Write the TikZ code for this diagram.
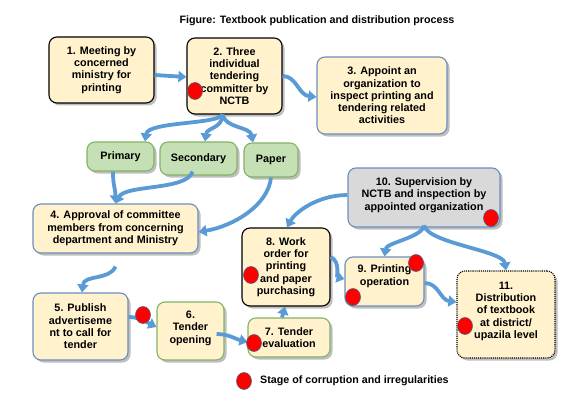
\documentclass[tikz,border=0pt]{standalone}
\usepackage{fontspec}
\setmainfont{Liberation Sans}
\usetikzlibrary{arrows.meta,shapes.geometric,shadows}
\definecolor{yfill}{HTML}{FFF2CC}
\definecolor{gfill}{HTML}{C5E0B4}
\definecolor{gline}{HTML}{82B366}
\definecolor{bline}{HTML}{6C8EBF}
\definecolor{grayfill}{HTML}{D9D9D9}
\definecolor{arr}{HTML}{5B9BD5}
\tikzset{
  box/.style={rectangle, rounded corners=8pt, fill=yfill, draw=black, line width=1.1pt,
    align=center, font=\fontsize{10.8}{12.3}\selectfont\bfseries, inner sep=0pt,
    drop shadow={shadow xshift=2.5pt, shadow yshift=-2.5pt, fill=black!50, opacity=0.5}},
  bluebox/.style={box, draw=bline},
  greenbox/.style={box, draw=gline},
  catbox/.style={box, draw=gline, fill=gfill},
  distbox/.style={box, draw=black, densely dotted},
  conn/.style={draw=arr, line width=3.8pt, -{Triangle[width=11pt,length=8pt]}},
  reddot/.style={ellipse, fill=red, draw=bline!70!black, line width=0.6pt, minimum width=15pt, minimum height=17pt, inner sep=0pt},
  plain/.style={font=\fontsize{10.7}{12}\selectfont\bfseries, inner sep=0pt}
}
\begin{document}
\begin{tikzpicture}[x=1pt,y=-1pt]
\path[use as bounding box, fill=white] (0,0) rectangle (588,409);
\node[plain] (title) at (317,21) {Figure: Textbook publication and distribution process};

\node[box, minimum width=105pt, minimum height=66pt] (b1) at (101.5,70) {1. Meeting by\\concerned\\ministry for\\printing};
\node[box, minimum width=95pt, minimum height=76pt, text depth=0pt] (b2) at (234.5,76) {2. Three\\individual\\tendering\\committer by\\NCTB};
\node[bluebox, minimum width=130pt, minimum height=77pt] (b3) at (382,95.5) {3. Appoint an\\organization to\\inspect printing and\\tendering related\\activities};
\node[catbox, minimum width=67pt, minimum height=29pt] (P) at (120.5,156.5) {Primary};
\node[catbox, minimum width=77pt, minimum height=33pt] (S) at (198.5,158.5) {Secondary};
\node[catbox, minimum width=54pt, minimum height=34pt] (Pa) at (271,160) {Paper};
\node[bluebox, fill=grayfill, minimum width=152pt, minimum height=59pt, text depth=7pt] (b10) at (424,197.5) {10. Supervision by\\NCTB and inspection by\\appointed organization};
\node[bluebox, minimum width=165pt, minimum height=49pt] (b4) at (115.5,228.5) {4. Approval of committee\\members from concerning\\department and Ministry};
\node[box, minimum width=88pt, minimum height=78pt] (b8) at (286,267) {8. Work\\order for\\printing\\and paper\\purchasing};
\node[bluebox, minimum width=79pt, minimum height=49pt, text depth=13pt] (b9) at (384.5,281.5) {9. Printing\\operation};
\node[distbox, minimum width=98pt, minimum height=87pt, text depth=9pt] (b11) at (506,314.5) {11.\\Distribution\\of textbook\\at district/\\upazila level};
\node[greenbox, minimum width=82pt, minimum height=39pt] (b7) at (289,337.5) {7. Tender\\evaluation};
\node[bluebox, minimum width=95pt, minimum height=67pt] (b5) at (80.5,326.5) {5. Publish\\advertiseme\\nt to call for\\tender};
\node[greenbox, minimum width=67pt, minimum height=58pt, text depth=8pt] (b6) at (190.5,331) {6.\\Tender\\opening};

% connectors
\draw[conn] ([yshift=-5pt]b1.east) -- ([yshift=-1pt]b2.west);
\draw[conn] (b2.east) .. controls +(14,0) and +(-18,-2) .. ([yshift=-1.5pt]b3.west);
\draw[conn] ([xshift=-12pt]b2.south) .. controls +(-5,10) and +(3,-20) .. ([xshift=24.5pt]P.north);
\draw[conn] ([xshift=-12pt]b2.south) .. controls +(0,14) and +(2,-14) .. ([xshift=6.5pt]S.north);
\draw[conn] ([xshift=-12pt]b2.south) .. controls +(3,14) and +(-3,-16) .. ([xshift=-18pt]Pa.north);
\draw[conn] ([xshift=-7.5pt]P.south) .. controls +(0,15) and +(0,-15) .. (b4.north);
\draw[conn] ([xshift=-6pt,yshift=4pt]S.south) .. controls +(-5,19) and +(10,-19) .. (b4.north);
\draw[conn] (Pa.south) .. controls +(-3,28) and +(35,-6) .. ([yshift=-3.5pt]b4.east);
\draw[conn] ([yshift=-13pt]b4.south) .. controls +(-6,14) and +(2,-18) .. ([xshift=1.5pt]b5.north);
\draw[conn] ([yshift=9.5pt]b5.east) .. controls +(10,0) and +(-12,-6) .. ([yshift=4pt]b6.west);
\draw[conn] ([xshift=-8pt,yshift=-3pt]b6.east) .. controls +(12,0) and +(-12,-3) .. ([yshift=-4.5pt]b7.west);
\draw[conn] ([xshift=-7pt]b7.north) -- ([xshift=-1pt]b8.south);
\draw[conn] ([yshift=2.5pt]b10.west) .. controls +(-30,0) and +(8,-15) .. ([xshift=1pt]b8.north);
\draw[conn] ([yshift=10pt]b8.east) .. controls +(10,4) and +(-8,-2) .. ([yshift=2.5pt]b9.west);
\draw[conn] ([yshift=2pt]b10.south) .. controls +(-2,12) and +(2,-14) .. (b9.north);
\draw[conn] ([yshift=2pt]b10.south) .. controls +(5,18) and +(-3,-20) .. (b11.north);
\draw[conn] ([yshift=-1.5pt]b9.east) .. controls +(14,0) and +(-16,-2) .. ([yshift=12.5pt]b11.west);

% stages of corruption
\node[reddot] (d2) at (195,91) {};
\node[reddot] (d10) at (491,218) {};
\node[reddot] (d8) at (251,275) {};
\node[reddot] (d9a) at (416,263) {};
\node[reddot] (d9b) at (353,297) {};
\node[reddot] (d11) at (465,326) {};
\node[reddot] (d7) at (254,343) {};
\node[reddot] (d56) at (143,315) {};

% legend
\node[reddot] (ld) at (244,381) {};
\node[plain, anchor=west] (lt) at (260,381) {Stage of corruption and irregularities};
\end{tikzpicture}
\end{document}
